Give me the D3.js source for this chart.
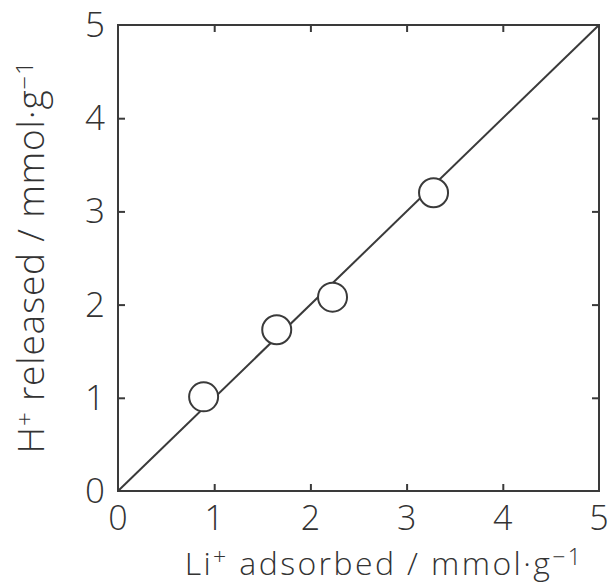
<!DOCTYPE html>
<head>
<meta charset="utf-8">
<style>
  body { margin: 0; background: #fff; }
  text { font-family: "Open Sans", "DejaVu Sans", sans-serif; font-weight: 300; fill: #333; }
</style>
</head>
<body>
<div id="chart"></div>
<script src="https://d3js.org/d3.v7.min.js"></script>
<script>
// Li+ adsorbed vs H+ released (mmol/g)
var liAdsorbed = [0.89, 1.65, 2.23, 3.28];
var hReleased  = [1.01, 1.73, 2.08, 3.20];
var tickValues = [0, 1, 2, 3, 4, 5];
var lineX = [0, 5];   // 1:1 line
var lineY = [0, 5];

var W = 608, H = 585;
var margin = {top: 25, right: 9, bottom: 94, left: 118};
var width = W - margin.left - margin.right,
    height = H - margin.top - margin.bottom;

var svg = d3.select("#chart").append("svg")
    .attr("width", W).attr("height", H);
var g = svg.append("g")
    .attr("transform", "translate(" + margin.left + "," + margin.top + ")");

var x = d3.scaleLinear().domain([0, 5]).range([0, width]);
var y = d3.scaleLinear().domain([0, 5]).range([height, 0]);

var ink = "#3a3a3a";

// frame
g.append("rect")
    .attr("width", width).attr("height", height)
    .attr("fill", "none").attr("stroke", ink).attr("stroke-width", 2);

// inward ticks on all four sides
var inner = [1, 2, 3, 4];
function ticks(axis, tr) {
  var a = g.append("g").attr("transform", tr)
    .call(axis.tickValues(inner).tickSize(-7).tickFormat(""));
  a.select(".domain").remove();
  a.selectAll("line").attr("stroke", ink).attr("stroke-width", 2);
}
ticks(d3.axisBottom(x), "translate(0," + height + ")");
ticks(d3.axisTop(x), "translate(0,0)");
ticks(d3.axisLeft(y), "translate(0,0)");
ticks(d3.axisRight(y), "translate(" + width + ",0)");

// tick labels
g.selectAll(".xl").data(tickValues).enter().append("text")
    .attr("x", function(d) { return x(d); })
    .attr("y", height + 39)
    .attr("text-anchor", "middle")
    .attr("font-size", 34)
    .text(function(d) { return d; });
g.selectAll(".yl").data(tickValues).enter().append("text")
    .attr("x", -13)
    .attr("y", function(d) { return y(d) + 12; })
    .attr("text-anchor", "end")
    .attr("font-size", 35)
    .text(function(d) { return d; });

// 1:1 line
var line = d3.line()
    .x(function(d) { return x(d[0]); })
    .y(function(d) { return y(d[1]); });
g.append("path")
    .datum(d3.zip(lineX, lineY))
    .attr("d", line)
    .attr("fill", "none").attr("stroke", ink).attr("stroke-width", 2);

// points
g.selectAll(".pt").data(d3.zip(liAdsorbed, hReleased)).enter().append("circle")
    .attr("cx", function(d) { return x(d[0]); })
    .attr("cy", function(d) { return y(d[1]); })
    .attr("r", 14.5)
    .attr("fill", "#fff").attr("stroke", ink).attr("stroke-width", 2);

// axis titles
var xt = svg.append("text")
    .attr("x", 384).attr("y", 575)
    .attr("text-anchor", "middle")
    .attr("font-size", 32)
    .attr("letter-spacing", 2.4);
xt.append("tspan").text("Li");
xt.append("tspan").attr("baseline-shift", "45%").attr("font-size", 23).text("+");
xt.append("tspan").text(" adsorbed / mmol·g");
xt.append("tspan").attr("baseline-shift", "45%").attr("font-size", 23).text("−1");

var yt = svg.append("text")
    .attr("transform", "translate(44,257) rotate(-90)")
    .attr("text-anchor", "middle")
    .attr("font-size", 37)
    .attr("letter-spacing", 0.8);
yt.append("tspan").text("H");
yt.append("tspan").attr("baseline-shift", "45%").attr("font-size", 24).text("+");
yt.append("tspan").text(" released / mmol·g");
yt.append("tspan").attr("baseline-shift", "45%").attr("font-size", 24).text("−1");
</script>
</body>
